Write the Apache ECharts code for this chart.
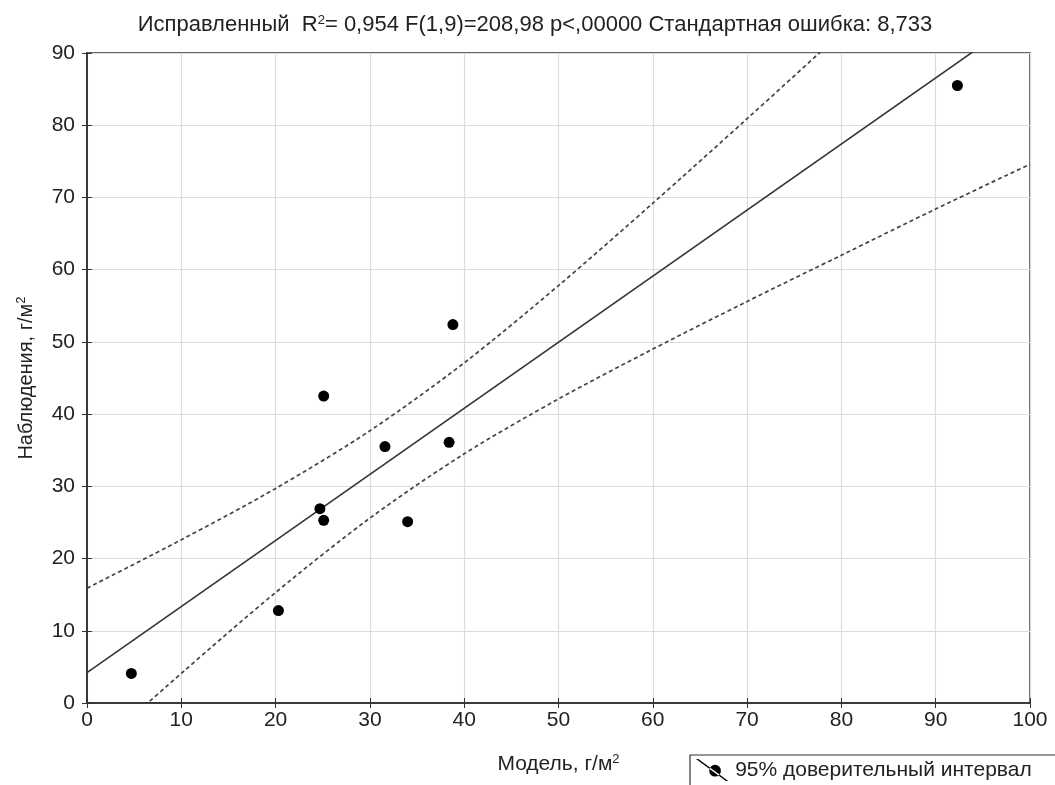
<!DOCTYPE html>
<html style="height: 100%">
<head>
    <meta charset="utf-8">
    <title>Модель / наблюдения</title>
</head>
<body style="height: 100%; margin: 0; background: #fff">
<div id="container" style="height: 100%"></div>
<script type="text/javascript" src="https://cdn.jsdelivr.net/npm/echarts@6/dist/echarts.min.js"></script>
<script type="text/javascript">
    // точки: модель (x) и наблюдения (y), г/м2
    var modelX = [4.7, 20.3, 24.7, 25.1, 25.1, 31.6, 34.0, 38.4, 38.8, 92.3];
    var observY = [4.1, 12.8, 26.9, 25.3, 42.5, 35.5, 25.1, 36.1, 52.4, 85.5];

    // линия регрессии (концы)
    var fitX = [0, 100];
    var fitY = [4.2, 95.7];

    // границы 95% интервала
    var bandX = [0, 10, 20, 30, 40, 50, 60, 70, 80, 90, 100];
    var bandUpper = [15.9, 22.6, 29.7, 37.7, 47.1, 57.8, 69.2, 80.9, 92.8, 104.8, 116.8];
    var bandLower = [-7.5, 4.1, 15.3, 25.6, 34.5, 42.1, 49.0, 55.6, 62.0, 68.4, 74.6];

    var titleText = 'Исправленный  R{sup|2}= 0,954 F(1,9)=208,98 p<,00000 Стандартная ошибка: 8,733';
    var legendName = '95% доверительный интервал';

    function pairs(xs, ys) {
        var out = [];
        for (var i = 0; i < xs.length; i++) out.push([xs[i], ys[i]]);
        return out;
    }

    var dom = document.getElementById("container");
    var myChart = echarts.init(dom);
    var font = 'Liberation Sans, Arial, sans-serif';
    var supStyle = { fontSize: 13, verticalAlign: 'top', padding: [0, 0, 9, 0], color: '#222', fontFamily: font };

    var option = {
        backgroundColor: '#fff',
        animation: false,
        textStyle: { fontFamily: font },
        title: {
            text: titleText,
            left: 530,
            textAlign: 'center',
            top: 9,
            textStyle: {
                fontFamily: font,
                fontWeight: 'normal',
                fontSize: 22,
                color: '#222',
                rich: { sup: supStyle }
            }
        },
        legend: {
            data: [{
                name: legendName,
                icon: 'path://M0,0 L1.6,0 L22,15 L20.4,15 Z M9,8 a4,4 0 1,0 8,0 a4,4 0 1,0 -8,0 Z'
            }],
            left: 690,
            top: 755,
            itemWidth: 36,
            itemHeight: 22,
            itemGap: 4,
            padding: [4, 40, 6, 6],
            borderColor: '#333',
            borderWidth: 1.2,
            borderRadius: 0,
            textStyle: { fontFamily: font, fontSize: 21, color: '#222' }
        },
        grid: {
            left: 87,
            right: 25,
            top: 53,
            bottom: 82,
            show: true,
            borderColor: '#333',
            borderWidth: 1.5,
            backgroundColor: 'transparent'
        },
        xAxis: [{
            type: 'value',
            min: 0,
            max: 100,
            interval: 10,
            name: 'Модель, г/м{sup|2}',
            nameLocation: 'middle',
            nameGap: 50,
            nameTextStyle: {
                fontFamily: font, fontSize: 21, color: '#222',
                rich: { sup: supStyle }
            },
            axisLine: { lineStyle: { color: '#333', width: 1.5 } },
            axisTick: { inside: true, length: 5, lineStyle: { color: '#333' } },
            axisLabel: { fontFamily: font, fontSize: 21, color: '#222', margin: 7 },
            splitLine: { lineStyle: { color: '#dcdcdc', width: 1.2 } }
        }, {
            type: 'value',
            position: 'top',
            min: 0,
            max: 100,
            interval: 10,
            axisLine: { show: true, lineStyle: { color: '#333', width: 1.5 } },
            axisTick: { show: true, inside: true, length: 5, lineStyle: { color: '#333' } },
            axisLabel: { show: false },
            splitLine: { show: false }
        }],
        yAxis: [{
            type: 'value',
            min: 0,
            max: 90,
            interval: 10,
            name: 'Наблюдения, г/м{sup|2}',
            nameLocation: 'middle',
            nameGap: 50,
            nameTextStyle: {
                fontFamily: font, fontSize: 20, color: '#222',
                rich: { sup: supStyle }
            },
            axisLine: { show: true, lineStyle: { color: '#333', width: 1.5 } },
            axisTick: { show: true, inside: true, length: 5, lineStyle: { color: '#333' } },
            axisLabel: { fontFamily: font, fontSize: 21, color: '#222', margin: 12 },
            splitLine: { lineStyle: { color: '#dcdcdc', width: 1.2 } }
        }, {
            type: 'value',
            position: 'right',
            min: 0,
            max: 90,
            interval: 10,
            axisLine: { show: true, lineStyle: { color: '#333', width: 1.5 } },
            axisTick: { show: true, inside: true, length: 5, lineStyle: { color: '#333' } },
            axisLabel: { show: false },
            splitLine: { show: false }
        }],
        series: [{
            name: 'fit',
            type: 'line',
            data: pairs(fitX, fitY),
            showSymbol: false,
            clip: true,
            lineStyle: { color: '#333', width: 1.6 },
            z: 3
        }, {
            name: 'upper',
            type: 'line',
            data: pairs(bandX, bandUpper),
            showSymbol: false,
            smooth: 0.3,
            clip: true,
            lineStyle: { color: '#444', width: 1.7, type: [4, 3] },
            z: 3
        }, {
            name: 'lower',
            type: 'line',
            data: pairs(bandX, bandLower),
            showSymbol: false,
            smooth: 0.3,
            clip: true,
            lineStyle: { color: '#444', width: 1.7, type: [4, 3] },
            z: 3
        }, {
            name: legendName,
            type: 'scatter',
            data: pairs(modelX, observY),
            symbolSize: 11,
            itemStyle: { color: '#000', opacity: 1 },
            z: 4
        }]
    };

    myChart.setOption(option, true);
</script>
</body>
</html>
